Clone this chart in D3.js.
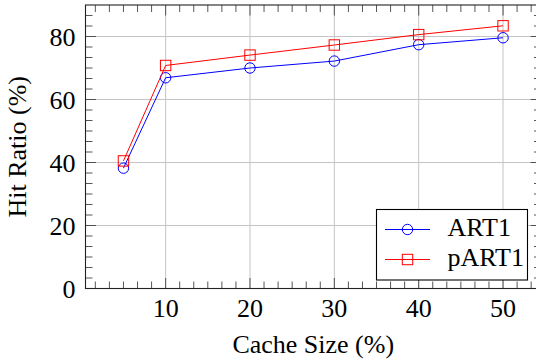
<!DOCTYPE html>
<html>
<head>
<meta charset="utf-8">
<script src="https://cdn.jsdelivr.net/npm/d3@7"></script>
<style>
  html, body { margin: 0; padding: 0; background: #fff; }
  svg { display: block; }
</style>
</head>
<body>
<svg id="chart" width="536" height="364" font-family="'Liberation Serif', 'Times New Roman', Times, serif"></svg>
<script>
const cacheSizes = [5, 10, 20, 30, 40, 50];
const art1 = [38.2, 66.9, 70.0, 72.2, 77.4, 79.6];
const part1 = [40.5, 70.8, 74.1, 77.3, 80.6, 83.4];
const seriesNames = ["ART1", "pART1"];
const xTickValues = [10, 20, 30, 40, 50];
const yTickValues = [0, 20, 40, 60, 80];
const xLabel = "Cache Size (%)";
const yLabel = "Hit Ratio (%)";

(function () {
const FONT = "'Liberation Serif', 'Times New Roman', Times, serif";
const pLeft = 85.5, pRight = 541, pTop = 5, pBottom = 288.5;
const svg = d3.select("#chart");

const x = d3.scaleLinear().domain([0.5, 54.5]).range([pLeft, pRight]);
const y = d3.scaleLinear().domain([0, 90]).range([pBottom, pTop]);

const g = svg.append("g");

// grid
g.selectAll(".vgrid").data(xTickValues).enter().append("line")
  .attr("x1", d => x(d)).attr("x2", d => x(d))
  .attr("y1", pTop).attr("y2", pBottom)
  .attr("stroke", "#c4c4c4").attr("stroke-width", 1);
g.selectAll(".hgrid").data(yTickValues).enter().append("line")
  .attr("x1", pLeft).attr("x2", pRight)
  .attr("y1", d => y(d)).attr("y2", d => y(d))
  .attr("stroke", "#c4c4c4").attr("stroke-width", 1);

// minor ticks
const xMinor = d3.range(0, 55, 10 / 6).filter(v => v > 0.5 && v < 54.5 && Math.abs(v / 10 - Math.round(v / 10)) > 1e-6);
const yMinor = d3.range(0, 90, 20 / 6).filter(v => v > 0 && Math.abs(v / 20 - Math.round(v / 20)) > 1e-6);
const tickCol = "#444";
const minorLen = 7, majorLen = 10.5;

function vTicks(vals, len) {
  vals.forEach(v => {
    g.append("line").attr("x1", x(v)).attr("x2", x(v)).attr("y1", pBottom).attr("y2", pBottom - len)
      .attr("stroke", tickCol).attr("stroke-width", 0.9);
    g.append("line").attr("x1", x(v)).attr("x2", x(v)).attr("y1", pTop).attr("y2", pTop + len)
      .attr("stroke", tickCol).attr("stroke-width", 0.9);
  });
}
function hTicks(vals, len) {
  vals.forEach(v => {
    g.append("line").attr("x1", pLeft).attr("x2", pLeft + len).attr("y1", y(v)).attr("y2", y(v))
      .attr("stroke", tickCol).attr("stroke-width", 0.9);
    g.append("line").attr("x1", pRight).attr("x2", pRight - len).attr("y1", y(v)).attr("y2", y(v))
      .attr("stroke", tickCol).attr("stroke-width", 0.9);
  });
}
vTicks(xMinor, minorLen);
hTicks(yMinor, minorLen);
vTicks(xTickValues, majorLen);
hTicks(yTickValues, majorLen);

// axis box
g.append("rect").attr("x", pLeft).attr("y", pTop).attr("width", pRight - pLeft).attr("height", pBottom - pTop)
  .attr("fill", "none").attr("stroke", "#222").attr("stroke-width", 1.1);

// tick labels
g.selectAll(".xl").data(xTickValues).enter().append("text")
  .attr("x", d => x(d)).attr("y", 316.5).attr("text-anchor", "middle")
  .attr("font-family", FONT).attr("font-size", 26).attr("fill", "#000").text(d => d);
g.selectAll(".yl").data(yTickValues).enter().append("text")
  .attr("x", 75.5).attr("y", d => y(d) + 9).attr("text-anchor", "end")
  .attr("font-family", FONT).attr("font-size", 26).attr("fill", "#000").text(d => d);

// axis labels
g.append("text").attr("x", (pLeft + pRight) / 2).attr("y", 352.5).attr("text-anchor", "middle")
  .attr("font-family", FONT).attr("font-size", 26).attr("fill", "#000").text(xLabel);
g.append("text").attr("transform", `translate(26,${(pTop + pBottom) / 2}) rotate(-90)`)
  .attr("text-anchor", "middle").attr("font-family", FONT).attr("font-size", 26).attr("fill", "#000").text(yLabel);

// series
const series = [
  { name: seriesNames[0], values: art1, color: "#0000ff", mark: "circle" },
  { name: seriesNames[1], values: part1, color: "#ff0000", mark: "square" }
];
const line = d3.line().x(d => x(d[0])).y(d => y(d[1]));
const R = 5.2;
function drawMark(sel, cx, cy, s) {
  if (s.mark === "circle") {
    sel.append("circle").attr("cx", cx).attr("cy", cy).attr("r", R)
      .attr("fill", "none").attr("stroke", s.color).attr("stroke-width", 1);
  } else {
    sel.append("rect").attr("x", cx - R).attr("y", cy - R).attr("width", 2 * R).attr("height", 2 * R)
      .attr("fill", "none").attr("stroke", s.color).attr("stroke-width", 1);
  }
}
series.forEach(s => {
  const pts = cacheSizes.map((c, i) => [c, s.values[i]]);
  g.append("path").attr("d", line(pts)).attr("fill", "none")
    .attr("stroke", s.color).attr("stroke-width", 1);
  pts.forEach(p => drawMark(g, x(p[0]), y(p[1]), s));
});

// legend
const lg = svg.append("g");
lg.append("rect").attr("x", 376.5).attr("y", 209.5).attr("width", 151).attr("height", 70.5)
  .attr("fill", "#fff").attr("stroke", "#000").attr("stroke-width", 1.1);
series.forEach((s, i) => {
  const ly = 229.5 + i * 30;
  lg.append("line").attr("x1", 385).attr("x2", 430).attr("y1", ly).attr("y2", ly)
    .attr("stroke", s.color).attr("stroke-width", 1);
  drawMark(lg, 407.5, ly, s);
  lg.append("text").attr("x", 447.5).attr("y", ly + 6.5)
    .attr("font-family", FONT).attr("font-size", 26).attr("fill", "#000").text(s.name);
});
})();
</script>
</body>
</html>
